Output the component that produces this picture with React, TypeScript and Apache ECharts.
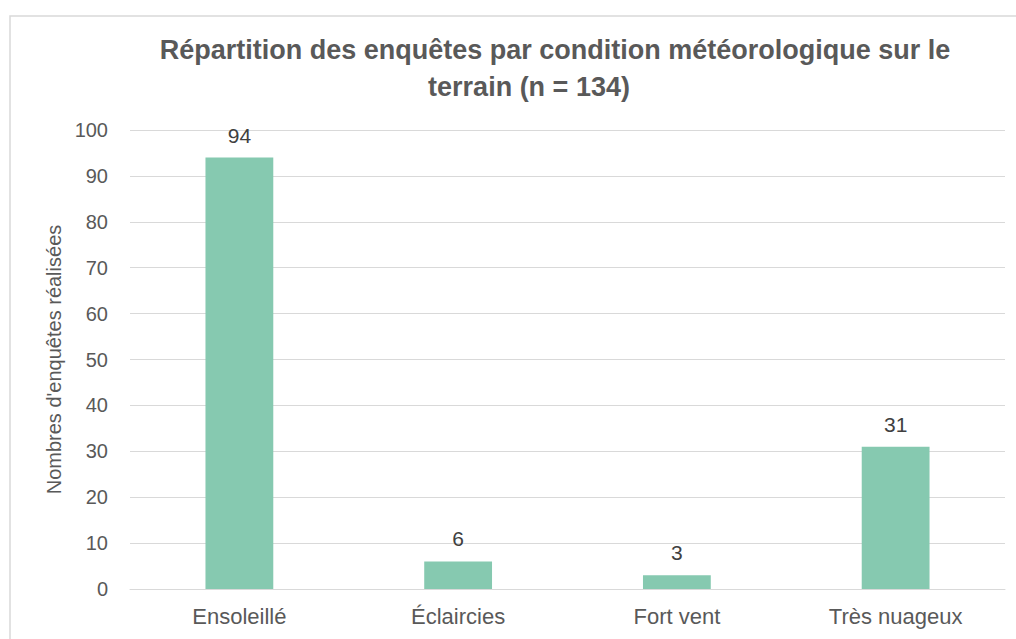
import React, { useEffect, useRef } from "react";
import * as echarts from "echarts";

const categories = ["Ensoleillé", "Éclaircies", "Fort vent", "Très nuageux"];
const values = [94, 6, 3, 31];
const titleLines = [
  "Répartition des enquêtes par condition météorologique sur le",
  "terrain (n = 134)",
];
const yAxisName = "Nombres d'enquêtes réalisées";

export default function App() {
  const ref = useRef<HTMLDivElement>(null);
  useEffect(() => {
    if (!ref.current) return;
    const chart = echarts.init(ref.current, null, { renderer: "svg" });
    const font = "Liberation Sans, Arial, sans-serif";
    const titleStyle = { fontFamily: font, fontSize: 27, fontWeight: "bold", color: "#595959", lineHeight: 30 };
    chart.setOption({
      animation: false,
      backgroundColor: "#ffffff",
      title: [
        { text: titleLines[0], left: 550, top: 30, textAlign: "center", textStyle: titleStyle },
        { text: titleLines[1], left: 524, top: 67, textAlign: "center", textStyle: titleStyle },
      ],
      graphic: [
        {
          type: "rect",
          shape: { x: 10, y: 16, width: 1030, height: 660 },
          style: { fill: "none", stroke: "#d9d9d9", lineWidth: 1.5 },
          silent: true,
        },
      ],
      grid: { left: 130, right: 11, top: 130, bottom: 50 },
      xAxis: {
        type: "category",
        data: categories,
        axisTick: { show: false },
        axisLine: { lineStyle: { color: "#d9d9d9", width: 1 } },
        axisLabel: { color: "#595959", fontFamily: font, fontSize: 22, margin: 16 },
      },
      yAxis: {
        type: "value",
        min: 0,
        max: 100,
        interval: 10,
        name: yAxisName,
        nameLocation: "middle",
        nameGap: 65,
        nameTextStyle: { color: "#595959", fontFamily: font, fontSize: 20 },
        axisLine: { show: false },
        axisTick: { show: false },
        axisLabel: { color: "#595959", fontFamily: font, fontSize: 20, margin: 22 },
        splitLine: { lineStyle: { color: "#d9d9d9", width: 1 } },
      },
      series: [
        {
          type: "bar",
          data: values,
          barWidth: "31%",
          itemStyle: { color: "#86c9b0" },
          label: {
            show: true,
            position: "top",
            distance: 12,
            color: "#404040",
            fontFamily: font,
            fontSize: 21,
          },
        },
      ],
    });
    return () => chart.dispose();
  }, []);
  return (
    <div
      ref={ref}
      style={{ position: "fixed", left: 0, top: 0, width: 1016, height: 639 }}
    />
  );
}
